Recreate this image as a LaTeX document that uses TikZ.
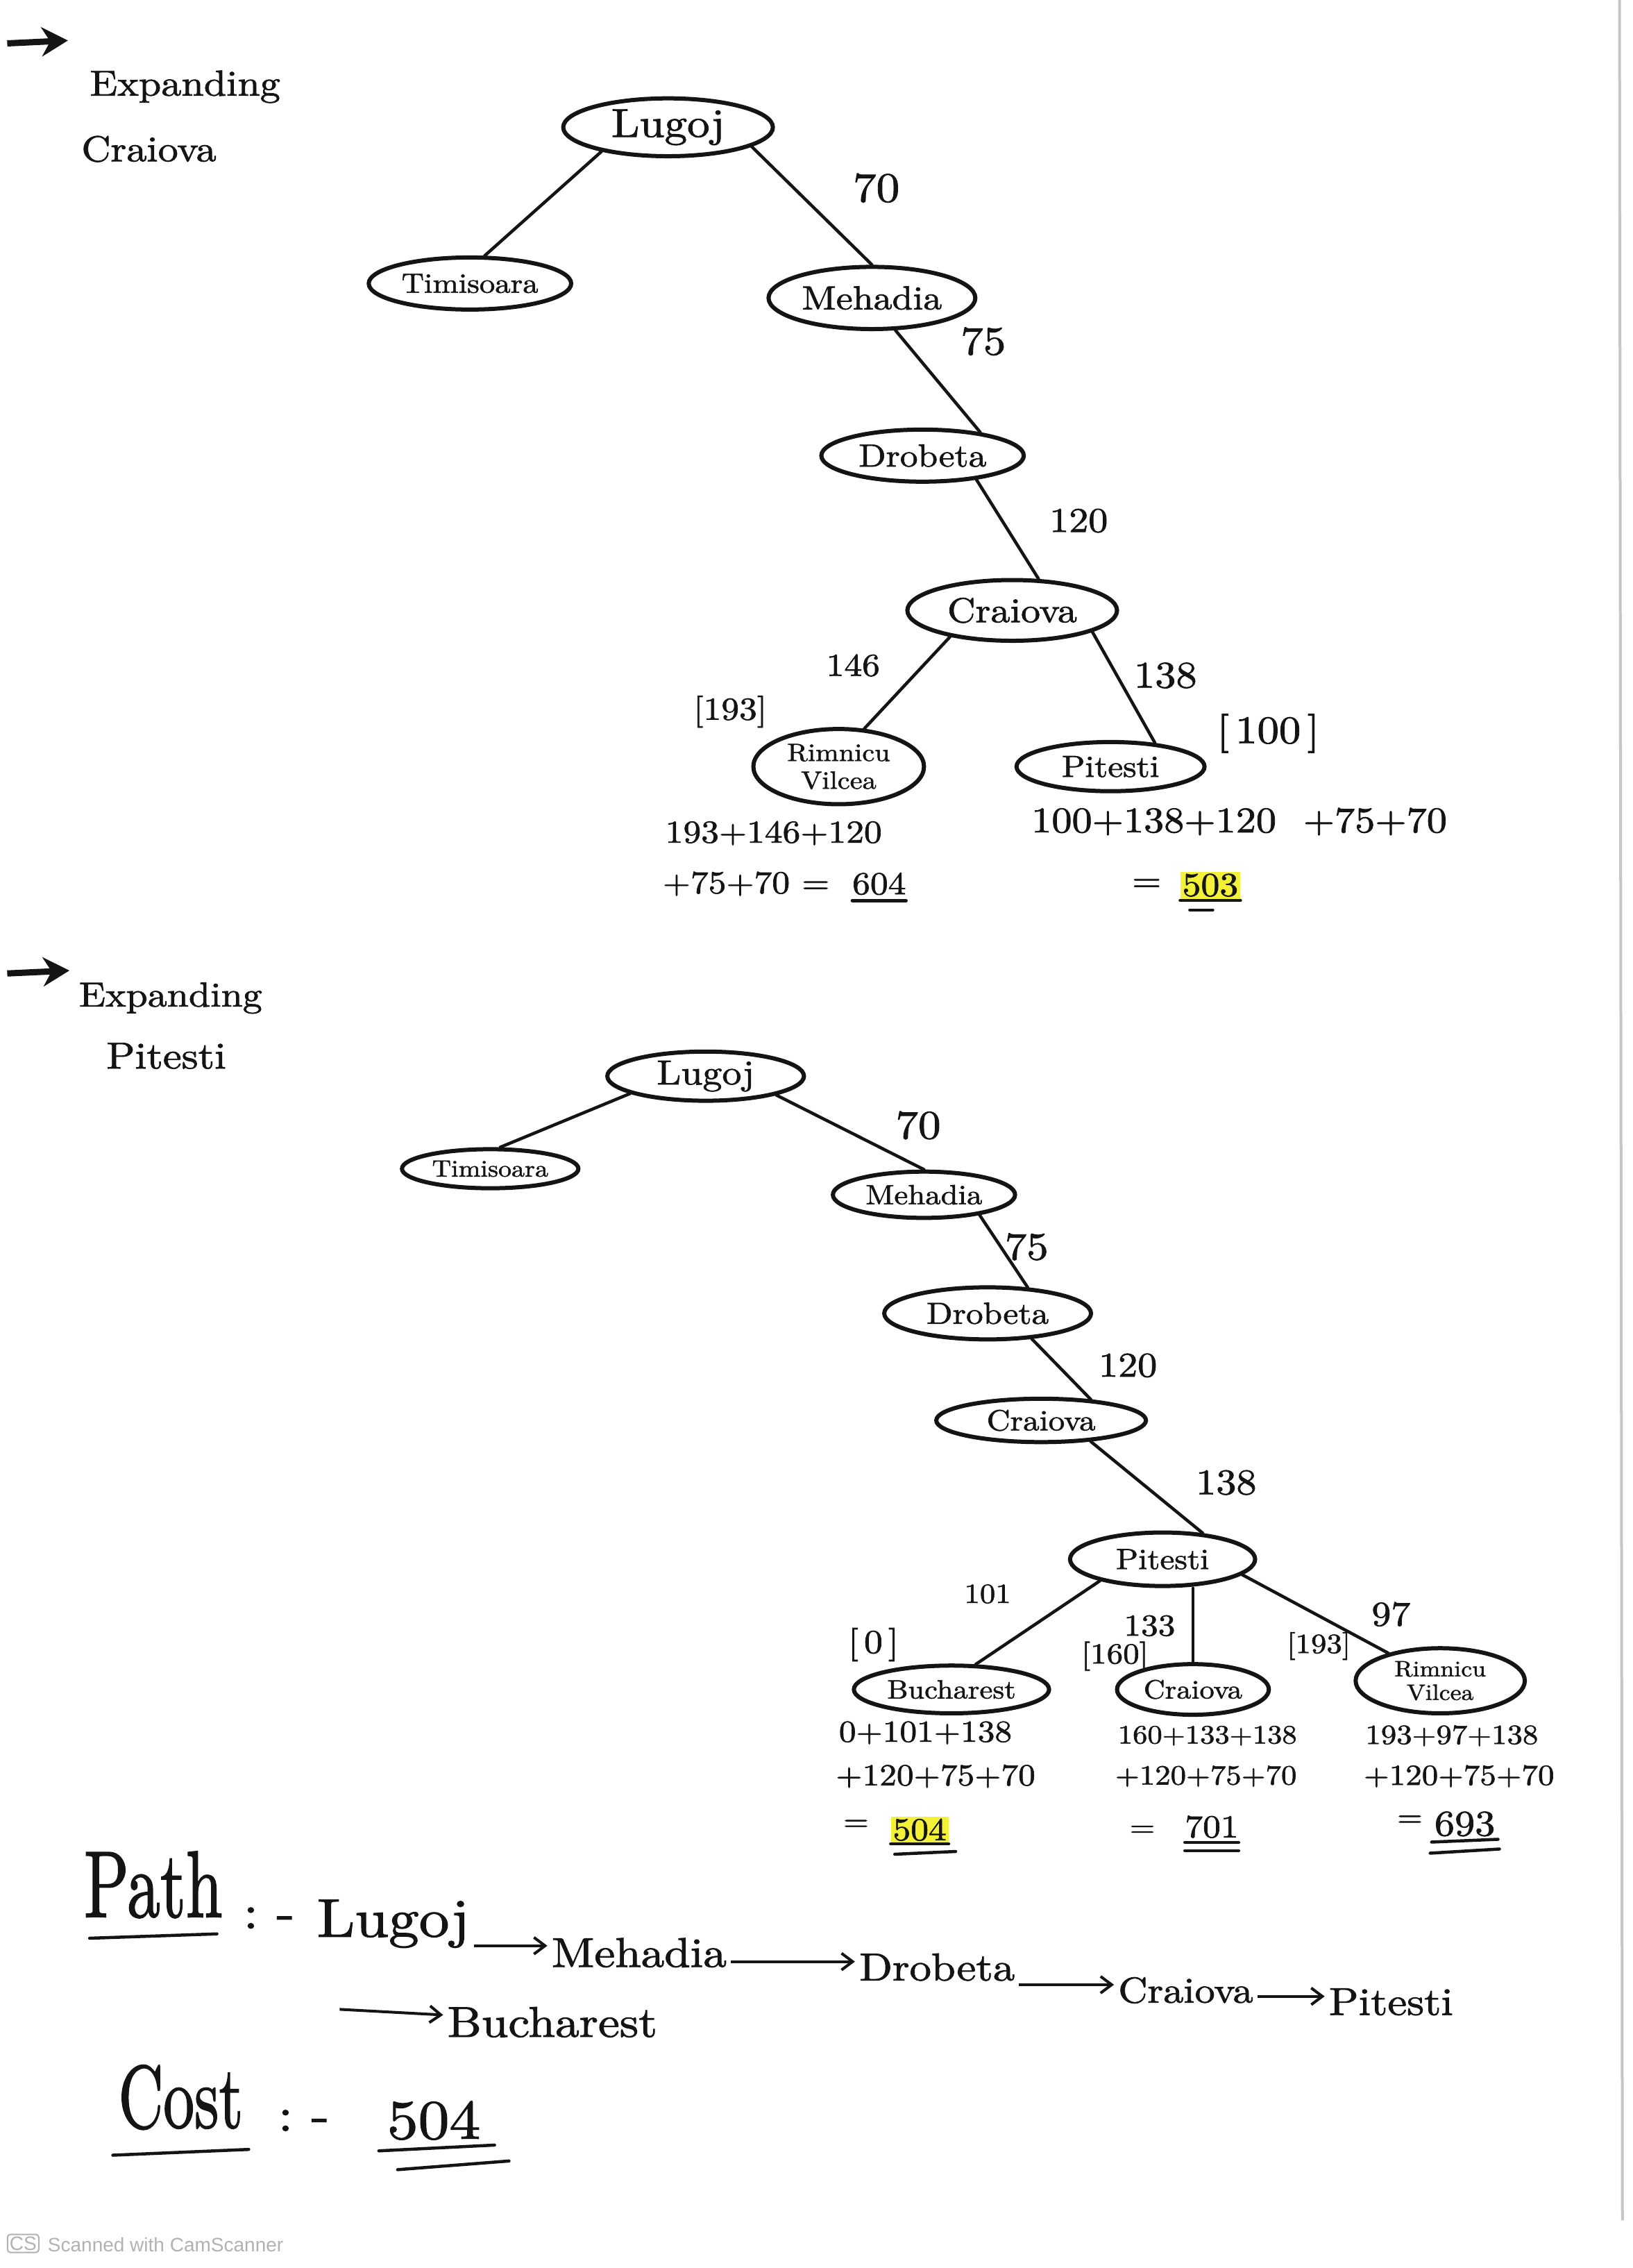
\documentclass[tikz,border=0pt]{standalone}
\usepackage{fontspec}
\setmainfont{lmroman10-regular.otf}[FakeStretch=1.12,FakeBold=1.5]
\newfontfamily\csfont{Liberation Sans}
\usetikzlibrary{shapes.geometric,arrows.meta}
\definecolor{hl}{RGB}{242,240,55}
\definecolor{ink}{RGB}{20,20,20}
\newcommand\fz[1]{\fontsize{#1}{#1}\selectfont}
\tikzset{
  ell/.style 2 args={ellipse,draw=ink,line width=6pt,inner sep=0pt,minimum width=#1*2.0833pt,minimum height=#2*2.0833pt,text=ink},
  edge/.style={draw=ink,line width=4.5pt,line cap=round},
  txt/.style={inner sep=0pt,text=ink},
  uline/.style={draw=ink,line width=4.5pt,line cap=round},
  parr/.style={draw=ink,line width=4pt,shorten <=6pt,shorten >=6pt,-{Straight Barb[length=16pt,width=24pt,line width=4pt]}},
  bigarr/.style={draw=ink,line width=9pt,-{Stealth[length=38pt,width=42pt]}},
}
\begin{document}
\begin{tikzpicture}[x=2.0833pt,y=-2.0833pt]
\fill[white] (0,0) rectangle (1129,1568);
\useasboundingbox (0,0) rectangle (1129,1568);
% scan edge
\draw[gray!45,line width=4pt] (1120,0) -- (1122,1535);

% ---------- Section 1 ----------
\coordinate (a1s) at (5,30); \coordinate (a1e) at (47,28);
\draw[bigarr] (a1s) -- (a1e);
\node[txt,font=\fz{52}] (e1) at (128,60) {Expanding};
\node[txt,font=\fz{52}] (e1b) at (103,103) {Craiova};

\node[ell={145}{40},font=\fz{58}] (L1) at (462,88) {Lugoj};
\node[ell={140}{36},font=\fz{40}] (T1) at (325,196) {Timisoara};
\node[ell={143}{43},font=\fz{48}] (M1) at (603,206) {Mehadia};
\node[ell={140}{36},font=\fz{46}] (D1) at (638,315) {Drobeta};
\node[ell={145}{42},font=\fz{50}] (C1) at (700,422) {Craiova};
\node[ell={118}{52},font=\fz{36},align=center] (R1) at (580,530) {Rimnicu\\[4pt]Vilcea};
\node[ell={130}{34},font=\fz{44}] (P1) at (768,530) {Pitesti};

\draw[edge] (L1.200) -- (T1.62);
\draw[edge] (L1.-13) -- (M1.north);
\draw[edge] (M1.-54) -- (D1.22);
\draw[edge] (D1.-24) -- (C1.50);
\draw[edge] (C1.203) -- (R1.56);
\draw[edge] (C1.-15) -- (P1.28);

\node[txt,font=\fz{60}] (w70a) at (606,130) {70};
\node[txt,font=\fz{58}] (w75a) at (680,236) {75};
\node[txt,font=\fz{50}] (w120a) at (746,360) {120};
\node[txt,font=\fz{46}] (w146a) at (590,460) {146};
\node[txt,font=\fz{54}] (w138a) at (806,467) {138};
\node[txt,font=\fz{46}] (h193a) at (505,492) {[193]};
\node[txt,font=\fz{56}] (h100a) at (877,507) {[\,100\,]};

\node[txt,font=\fz{46}] (x1a) at (535,576) {193+146+120};
\node[txt,font=\fz{46}] (x1b) at (516,611) {+75+70 =};
\node[txt,font=\fz{46}] (x1c) at (608,611) {604};
\draw[uline] ([yshift=-8pt]x1c.south west) -- ([yshift=-8pt]x1c.south east);

\node[txt,font=\fz{52}] (x2a) at (857,568) {100+138+120\ \ +75+70};
\node[txt,font=\fz{48}] (x2e) at (793,612) {=};
\node[txt,font=\fz{48},fill=hl,inner sep=3pt] (x2c) at (837,612) {503};
\draw[uline] ([yshift=-2pt]x2c.south west) -- ([yshift=-2pt]x2c.south east);
\draw[uline] ([shift={(14pt,-16pt)}]x2c.south west) -- ([shift={(-40pt,-16pt)}]x2c.south east);

% ---------- Section 2 ----------
\coordinate (a2s) at (5,673); \coordinate (a2e) at (48,671);
\draw[bigarr] (a2s) -- (a2e);
\node[txt,font=\fz{50}] (e2) at (118,690) {Expanding};
\node[txt,font=\fz{54}] (e2b) at (115,730) {Pitesti};

\node[ell={136}{34},font=\fz{50}] (L2) at (488,744) {Lugoj};
\node[ell={122}{27},font=\fz{34}] (T2) at (339,808) {Timisoara};
\node[ell={126}{32},font=\fz{40}] (M2) at (639,826) {Mehadia};
\node[ell={143}{36},font=\fz{44}] (D2) at (683,908) {Drobeta};
\node[ell={145}{30},font=\fz{42}] (C2) at (720,982) {Craiova};
\node[ell={128}{37},font=\fz{42}] (P2) at (804,1078) {Pitesti};
\node[ell={135}{33},font=\fz{38}] (B2) at (658,1168) {Bucharest};
\node[ell={105}{35},font=\fz{38}] (C3) at (825,1168) {Craiova};
\node[ell={117}{45},font=\fz{32},align=center] (R2) at (996,1162) {Rimnicu\\[2pt]Vilcea};

\draw[edge] (L2.193) -- (T2.65);
\draw[edge] (L2.-15) -- (M2.north);
\draw[edge] (M2.-20) -- (D2.33);
\draw[edge] (D2.-30) -- (C2.23);
\draw[edge] (C2.-23) -- (P2.33);
\draw[edge] (P2.199) -- (B2.46);
\draw[edge] (P2.south -| C3.north) -- (C3.north);
\draw[edge] (P2.-11) -- (R2.152);

\node[txt,font=\fz{58}] (w70b) at (635,778) {70};
\node[txt,font=\fz{56}] (w75b) at (710,862) {75};
\node[txt,font=\fz{50}] (w120b) at (780,944) {120};
\node[txt,font=\fz{52}] (w138b) at (848,1025) {138};
\node[txt,font=\fz{40}] (w101b) at (683,1102) {101};
\node[txt,font=\fz{48}] (h0b) at (604,1137) {[\,0\,]};
\node[txt,font=\fz{44}] (w133b) at (795,1124) {133};
\node[txt,font=\fz{42}] (h160b) at (771,1145) {[160]};
\node[txt,font=\fz{50}] (w97b) at (962,1116) {97};
\node[txt,font=\fz{40}] (h193b) at (912,1138) {[193]};

\node[txt,font=\fz{44}] (y1a) at (640,1198) {0+101+138};
\node[txt,font=\fz{44}] (y1b) at (647,1228) {+120+75+70};
\node[txt,font=\fz{42}] (y1e) at (592,1262) {=};
\node[txt,font=\fz{46},fill=hl,inner sep=3pt] (y1c) at (636,1265) {504};
\draw[uline] ([yshift=-1pt]y1c.south west) -- ([yshift=-1pt]y1c.south east);
\draw[uline] ([shift={(6pt,-16pt)}]y1c.south west) -- ([shift={(10pt,-12pt)}]y1c.south east);

\node[txt,font=\fz{38}] (y2a) at (835,1200) {160+133+138};
\node[txt,font=\fz{40}] (y2b) at (834,1228) {+120+75+70};
\node[txt,font=\fz{42}] (y2e) at (790,1266) {=};
\node[txt,font=\fz{46}] (y2c) at (838,1263) {701};
\draw[uline] ([yshift=-6pt]y2c.south west) -- ([yshift=-6pt]y2c.south east);
\draw[uline] ([yshift=-18pt]y2c.south west) -- ([yshift=-18pt]y2c.south east);

\node[txt,font=\fz{40}] (y3a) at (1004,1200) {193+97+138};
\node[txt,font=\fz{42}] (y3b) at (1009,1228) {+120+75+70};
\node[txt,font=\fz{42}] (y3e) at (975,1259) {=};
\node[txt,font=\fz{52}] (y3c) at (1013,1261) {693};
\draw[uline] ([shift={(-4pt,-8pt)}]y3c.south west) -- ([shift={(4pt,-4pt)}]y3c.south east);
\draw[uline] ([shift={(-6pt,-24pt)}]y3c.south west) -- ([shift={(6pt,-18pt)}]y3c.south east);

% ---------- Path and cost ----------
\node[txt,font=\fz{85}] (path) at (106,1303) {\scalebox{1}[1.6]{Path}};
\draw[uline] (62,1340) -- (150,1337);
\node[txt,font=\fz{70}] (pcol) at (186,1326) {:\ -};
\node[txt,font=\fz{78}] (pw1) at (272,1330) {Lugoj};
\node[txt,font=\fz{60}] (pw2) at (442,1350) {Mehadia};
\node[txt,font=\fz{56}] (pw3) at (648,1360) {Drobeta};
\node[txt,font=\fz{52}] (pw4) at (820,1376) {Craiova};
\node[txt,font=\fz{56}] (pw5) at (962,1384) {Pitesti};
\draw[parr] ([yshift=10pt]pw2.west -| pw1.east) -- ([yshift=10pt]pw2.west);
\draw[parr] ([yshift=8pt]pw3.west -| pw2.east) -- ([yshift=8pt]pw3.west);
\draw[parr] ([yshift=8pt]pw4.west -| pw3.east) -- ([yshift=8pt]pw4.west);
\draw[parr] ([yshift=8pt]pw5.west -| pw4.east) -- ([yshift=8pt]pw5.west);
\coordinate (bs) at (232,1389);
\node[txt,font=\fz{62}] (pw6) at (382,1398) {Bucharest};
\draw[parr] (bs) -- ([yshift=10pt]pw6.west);

\node[txt,font=\fz{80}] (cost) at (125,1450) {\scalebox{1}[1.6]{Cost}};
\node[txt,font=\fz{70}] (ccol) at (210,1466) {:\ -};
\node[txt,font=\fz{80}] (cval) at (300,1466) {504};
\draw[uline] (78,1490) -- (172,1486);
\draw[uline] (262,1487) -- (342,1483);
\draw[uline] (275,1500) -- (352,1494);

% ---------- scanner mark ----------
\node[draw=gray!60,rounded corners=4pt,line width=2pt,text=gray!60,font=\csfont\fz{28},inner sep=3pt] (cs) at (16,1551) {CS};
\node[txt,text=gray!60,font=\csfont\fz{28},anchor=west] (csn) at (33,1552) {Scanned with CamScanner};
\end{tikzpicture}
\end{document}
